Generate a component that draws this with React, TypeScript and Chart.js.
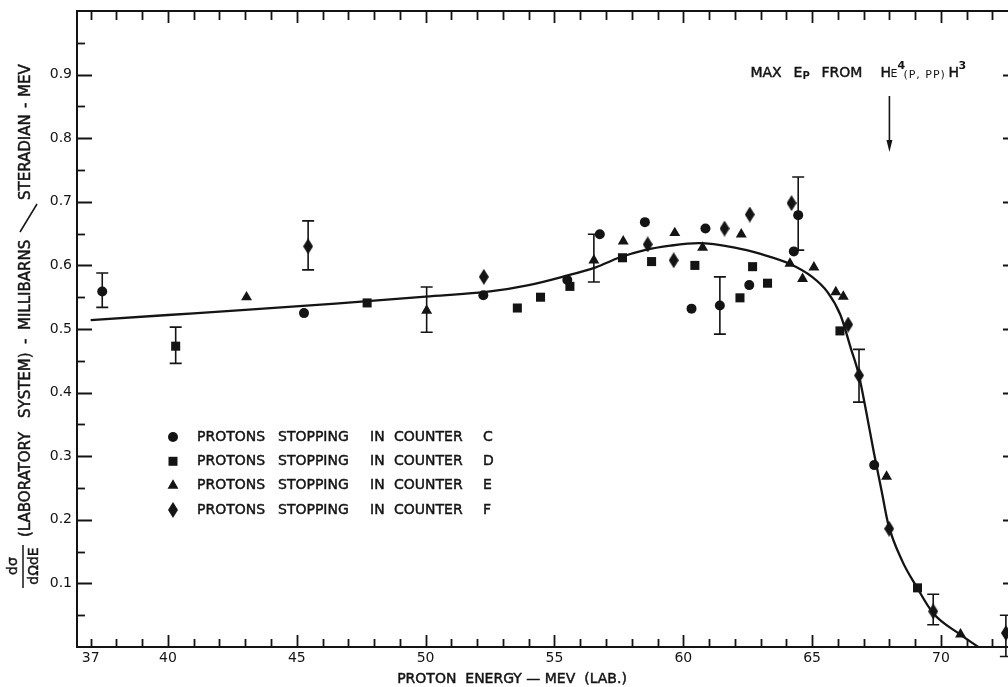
import React, { useEffect, useRef } from 'react';
import { Chart, registerables } from 'chart.js';

Chart.register(...registerables);

const FONT = '"DejaVu Sans", "Liberation Sans", sans-serif';
const INK = '#141414';

// Axis ranges and tick labels
const xMin = 36.47;
const xMax = 72.68;
const yMin = 0;
const yMax = 1.0;
const xLabelled = [37, 40, 45, 50, 55, 60, 65, 70];
const yLabelled = [0.1, 0.2, 0.3, 0.4, 0.5, 0.6, 0.7, 0.8, 0.9];

// Fitted curve
const curveE = [37.0, 40, 43, 46.5, 50, 52.5, 54, 55.3, 56.6, 57.5, 58.5, 59.5, 60.6, 62, 63, 64.1, 65.0, 65.6, 66.1, 66.5, 66.8, 67.1, 67.4, 67.7, 67.95, 68.5, 69.05, 69.7, 70.7, 71.45];
const curveV = [0.514, 0.522, 0.530, 0.540, 0.551, 0.559, 0.569, 0.582, 0.597, 0.612, 0.624, 0.631, 0.635, 0.628, 0.618, 0.603, 0.582, 0.558, 0.522, 0.470, 0.430, 0.370, 0.305, 0.245, 0.194, 0.135, 0.095, 0.053, 0.021, 0.0];

// Counter C (circles)
const cE = [37.45, 45.28, 52.24, 55.5, 56.76, 58.51, 60.32, 60.86, 61.42, 62.56, 64.29, 64.46, 67.41];
const cV = [0.559, 0.525, 0.553, 0.577, 0.649, 0.668, 0.532, 0.658, 0.537, 0.569, 0.622, 0.679, 0.286];
// Counter D (squares)
const dE = [40.3, 47.73, 53.56, 54.46, 55.6, 57.64, 58.77, 60.45, 62.2, 62.69, 63.27, 66.08, 69.09];
const dV = [0.473, 0.541, 0.533, 0.550, 0.567, 0.612, 0.606, 0.600, 0.549, 0.598, 0.572, 0.497, 0.093];
// Counter E (triangles)
const eE = [43.05, 50.04, 56.53, 57.67, 59.67, 60.75, 62.25, 64.14, 64.63, 65.07, 65.92, 66.21, 67.89, 70.76];
const eV = [0.550, 0.529, 0.608, 0.638, 0.651, 0.628, 0.649, 0.603, 0.579, 0.597, 0.558, 0.551, 0.268, 0.020];
// Counter F (diamonds)
const fE = [45.44, 52.26, 58.62, 59.63, 61.6, 62.58, 64.2, 66.4, 66.82, 67.99, 69.70, 72.52];
const fV = [0.630, 0.582, 0.633, 0.608, 0.658, 0.680, 0.698, 0.507, 0.427, 0.186, 0.056, 0.022];

// Error bars
const errE = [37.45, 40.3, 45.44, 50.04, 56.53, 61.42, 64.46, 66.82, 69.70, 72.52];
const errLo = [0.534, 0.446, 0.593, 0.495, 0.574, 0.492, 0.624, 0.385, 0.035, -0.015];
const errHi = [0.588, 0.503, 0.670, 0.566, 0.649, 0.582, 0.739, 0.468, 0.083, 0.050];

// Texts
const counters = ['C', 'D', 'E', 'F'];
const legendWords = ['PROTONS', 'STOPPING', 'IN', 'COUNTER'];
const xTitle = 'PROTON  ENERGY — MEV  (LAB.)';
const maxEp = 68.0;

function makeDiamond(w: number, h: number) {
  const c = document.createElement('canvas');
  c.width = w;
  c.height = h;
  const g = c.getContext('2d')!;
  g.fillStyle = INK;
  g.beginPath();
  g.moveTo(w / 2, 0);
  g.lineTo(w, h / 2);
  g.lineTo(w / 2, h);
  g.lineTo(0, h / 2);
  g.closePath();
  g.fill();
  return c;
}

function drawMarker(ctx: CanvasRenderingContext2D, kind: string, x: number, y: number, diamond: HTMLCanvasElement) {
  ctx.save();
  ctx.fillStyle = INK;
  ctx.beginPath();
  if (kind === 'circle') {
    ctx.arc(x, y, 5, 0, Math.PI * 2);
    ctx.fill();
  } else if (kind === 'rect') {
    ctx.rect(x - 4.5, y - 4.5, 9, 9);
    ctx.fill();
  } else if (kind === 'triangle') {
    const r = 6.3;
    ctx.moveTo(x, y - r);
    ctx.lineTo(x + r * 0.866, y + r * 0.5);
    ctx.lineTo(x - r * 0.866, y + r * 0.5);
    ctx.closePath();
    ctx.fill();
  } else {
    ctx.drawImage(diamond, x - diamond.width / 2, y - diamond.height / 2);
  }
  ctx.restore();
}

const pts = (xs: number[], ys: number[]) => xs.map((x, i) => ({ x, y: ys[i] }));

function boldText(ctx: CanvasRenderingContext2D, txt: string, x: number, y: number) {
  ctx.fillText(txt, x, y);
  ctx.strokeText(txt, x, y);
}

export default function App() {
  const ref = useRef<HTMLCanvasElement>(null);

  useEffect(() => {
    const canvas = ref.current!;
    const diamond = makeDiamond(10, 16);
    const kinds = ['circle', 'rect', 'triangle', 'diamond'];

    const decor = {
      id: 'decor',
      afterDraw(chart: any) {
        const { ctx, chartArea: a, scales } = chart;
        const xs = scales.x;
        const ys = scales.y;
        ctx.save();
        ctx.strokeStyle = INK;
        ctx.fillStyle = INK;
        ctx.lineCap = 'butt';

        // top and right frame lines
        ctx.lineWidth = 2;
        ctx.beginPath();
        ctx.moveTo(a.left - 1, a.top);
        ctx.lineTo(a.right, a.top);
        ctx.lineTo(a.right, a.bottom);
        ctx.stroke();

        // inward x ticks (bottom and top)
        ctx.lineWidth = 1.8;
        for (const t of xs.ticks) {
          const px = Math.round(xs.getPixelForValue(t.value)) + 0.5;
          const major = Math.abs(t.value % 5) < 1e-6;
          const Lb = major ? 12 : 8;
          const Lt = major ? 12 : 9;
          ctx.beginPath();
          ctx.moveTo(px, a.bottom);
          ctx.lineTo(px, a.bottom - Lb);
          ctx.moveTo(px, a.top);
          ctx.lineTo(px, a.top + Lt);
          ctx.stroke();
        }
        // inward y ticks (left and right)
        for (const t of ys.ticks) {
          if (t.value <= 0 || t.value >= 1) continue;
          const py = Math.round(ys.getPixelForValue(t.value)) + 0.5;
          const major = Math.round(t.value * 20) % 2 === 0;
          ctx.beginPath();
          ctx.moveTo(a.left, py);
          ctx.lineTo(a.left + (major ? 15 : 8), py);
          if (major) {
            ctx.moveTo(a.right, py);
            ctx.lineTo(a.right - 7, py);
          }
          ctx.stroke();
        }

        // error bars
        ctx.lineWidth = 1.6;
        errE.forEach((e, i) => {
          const px = xs.getPixelForValue(e);
          const lo = ys.getPixelForValue(errLo[i]);
          const hi = ys.getPixelForValue(errHi[i]);
          ctx.beginPath();
          ctx.moveTo(px, lo);
          ctx.lineTo(px, hi);
          ctx.moveTo(px - 6, lo);
          ctx.lineTo(px + 6, lo);
          ctx.moveTo(px - 6, hi);
          ctx.lineTo(px + 6, hi);
          ctx.stroke();
        });

        ctx.lineWidth = 0.45;

        // legend
        ctx.font = `14px ${FONT}`;
        ctx.textBaseline = 'middle';
        ctx.textAlign = 'left';
        const wordOffsets = [0, 81, 173, 197];
        counters.forEach((c, i) => {
          const y = 437 + i * 24.3;
          drawMarker(ctx, kinds[i], 173, y, diamond);
          legendWords.forEach((w, j) => boldText(ctx, w, 197 + wordOffsets[j], y));
          boldText(ctx, c, 197 + 286, y);
        });

        // annotation: MAX Ep FROM He4(p,pp)H3 with arrow
        const ax = xs.getPixelForValue(maxEp);
        ctx.lineWidth = 1.6;
        ctx.beginPath();
        ctx.moveTo(ax, 96);
        ctx.lineTo(ax, 142);
        ctx.stroke();
        ctx.beginPath();
        ctx.moveTo(ax - 3, 140);
        ctx.lineTo(ax + 3, 140);
        ctx.lineTo(ax, 152);
        ctx.closePath();
        ctx.fill();

        ctx.lineWidth = 0.45;
        ctx.textBaseline = 'alphabetic';
        const bx = ax - 139;
        const base = 77;
        ctx.font = `14px ${FONT}`;
        boldText(ctx, 'MAX', bx, base);
        boldText(ctx, 'E', bx + 43, base);
        boldText(ctx, 'FROM', bx + 71, base);
        boldText(ctx, 'H', bx + 130, base);
        boldText(ctx, 'H', bx + 198, base);
        ctx.font = `bold 10px ${FONT}`;
        ctx.fillText('P', bx + 52, base + 2);
        ctx.font = `11px ${FONT}`;
        ctx.fillText('E', bx + 140, base);
        (ctx as any).letterSpacing = '1px';
        ctx.fillText('(P, PP)', bx + 153, base + 1);
        (ctx as any).letterSpacing = '0px';
        ctx.font = `bold 11px ${FONT}`;
        ctx.fillText('4', bx + 147, base - 8);
        ctx.fillText('3', bx + 208, base - 8);

        // x-axis title
        ctx.font = `14px ${FONT}`;
        ctx.textAlign = 'center';
        ctx.textBaseline = 'middle';
        boldText(ctx, xTitle, 512, 679);

        // y-axis title (rotated)
        ctx.save();
        ctx.rotate(-Math.PI / 2);
        ctx.font = `15px ${FONT}`;
        ctx.textAlign = 'left';
        ctx.textBaseline = 'middle';
        const colX = 26;
        const seg = (txt: string, yStart: number) => boldText(ctx, txt, -yStart, colX);
        seg('(LABORATORY', 537);
        seg('SYSTEM)', 418);
        seg('-', 344);
        seg('MILLIBARNS', 330);
        seg('STERADIAN', 200);
        seg('-', 108);
        seg('MEV', 97);
        // fraction d sigma / d Omega dE
        ctx.font = `14px ${FONT}`;
        ctx.textAlign = 'center';
        boldText(ctx, 'dσ', -566, 13);
        boldText(ctx, 'dΩdE', -566, 34);
        ctx.restore();
        ctx.lineWidth = 1.5;
        ctx.beginPath();
        ctx.moveTo(23, 545);
        ctx.lineTo(23, 588);
        ctx.stroke();
        // big slash between MILLIBARNS and STERADIAN
        ctx.beginPath();
        ctx.moveTo(20, 232);
        ctx.lineTo(37, 204);
        ctx.stroke();

        ctx.restore();
      },
    };

    const chart = new Chart(canvas, {
      type: 'scatter',
      data: {
        datasets: [
          {
            type: 'line',
            label: 'fit',
            data: pts(curveE, curveV),
            borderColor: INK,
            borderWidth: 2.3,
            pointRadius: 0,
            fill: false,
            cubicInterpolationMode: 'monotone',
            clip: false,
          } as any,
          {
            label: 'PROTONS STOPPING IN COUNTER C',
            data: pts(cE, cV),
            pointStyle: 'circle',
            pointRadius: 5,
            backgroundColor: INK,
            borderColor: INK,
            borderWidth: 0,
            clip: false,
          },
          {
            label: 'PROTONS STOPPING IN COUNTER D',
            data: pts(dE, dV),
            pointStyle: 'rect',
            pointRadius: 6.4,
            backgroundColor: INK,
            borderColor: INK,
            borderWidth: 0,
            clip: false,
          },
          {
            label: 'PROTONS STOPPING IN COUNTER E',
            data: pts(eE, eV),
            pointStyle: 'triangle',
            pointRadius: 6.3,
            backgroundColor: INK,
            borderColor: INK,
            borderWidth: 0,
            clip: false,
          },
          {
            label: 'PROTONS STOPPING IN COUNTER F',
            data: pts(fE, fV),
            pointStyle: diamond as any,
            pointRadius: 8,
            backgroundColor: INK,
            borderColor: INK,
            borderWidth: 0,
            clip: false,
          },
        ],
      },
      options: {
        animation: false,
        responsive: false,
        maintainAspectRatio: false,
        layout: { autoPadding: false, padding: { top: 11, right: 2, bottom: 0, left: 0 } },
        plugins: { legend: { display: false }, tooltip: { enabled: false }, title: { display: false } },
        scales: {
          x: {
            type: 'linear',
            min: xMin,
            max: xMax,
            grid: { display: false, drawTicks: false, tickLength: 0 },
            border: { display: true, color: INK, width: 2 },
            afterBuildTicks: (s: any) => {
              const t = [];
              for (let v = 37; v <= 72; v++) t.push({ value: v });
              s.ticks = t;
            },
            afterFit: (s: any) => {
              s.height = 40;
              s.paddingLeft = 0;
              s.paddingRight = 0;
            },
            ticks: {
              autoSkip: false,
              maxRotation: 0,
              padding: 3,
              color: INK,
              font: { family: FONT, size: 14 },
              callback: (v: any) => (xLabelled.includes(Number(v)) ? String(v) : ''),
            },
          },
          y: {
            type: 'linear',
            min: yMin,
            max: yMax,
            grid: { display: false, drawTicks: false, tickLength: 0 },
            border: { display: true, color: INK, width: 2 },
            afterBuildTicks: (s: any) => {
              const t = [];
              for (let i = 0; i <= 20; i++) t.push({ value: Math.round(i * 5) / 100 });
              s.ticks = t;
            },
            afterFit: (s: any) => {
              s.width = 77;
              s.paddingTop = 0;
              s.paddingBottom = 0;
            },
            ticks: {
              autoSkip: false,
              padding: 5,
              color: INK,
              font: { family: FONT, size: 14 },
              callback: (v: any) =>
                yLabelled.some((l) => Math.abs(l - Number(v)) < 1e-6) ? Number(v).toFixed(1) : '',
            },
          },
        },
      },
      plugins: [decor],
    });
    return () => chart.destroy();
  }, []);

  return (
    <div
      style={{
        position: 'fixed',
        left: 0,
        top: 0,
        width: 1008,
        height: 687,
        overflow: 'hidden',
        background: '#fff',
      }}
    >
      <canvas ref={ref} width={1012} height={687} style={{ display: 'block', width: 1012, height: 687 }} />
    </div>
  );
}
